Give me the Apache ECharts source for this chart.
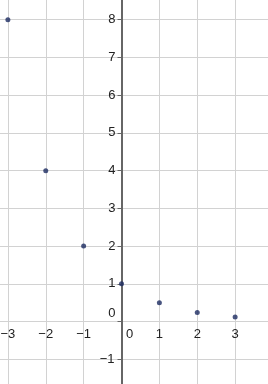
<!DOCTYPE html>
<html><head><meta charset="utf-8">
<script src="https://cdn.jsdelivr.net/npm/echarts@6/dist/echarts.min.js"></script>
<style>html,body{margin:0;padding:0;background:#fff}#c{width:268px;height:384px}</style>
</head><body><div id="c"></div>
<script>
const xValues = [-3, -2, -1, 0, 1, 2, 3];
const yValues = [8, 4, 2, 1, 0.5, 0.24, 0.12];
const xTicks = [-4, -3, -2, -1, 0, 1, 2, 3, 4];
const yTicks = [-2, -1, 0, 1, 2, 3, 4, 5, 6, 7, 8, 9];

const minus = v => (v < 0 ? '\u2212' + Math.abs(v) : String(v));
const fmt = v => (v === 0 ? '{z|0}' : minus(v));
const fmtY = v => (v === 0 ? '{z|0}' : v < 0 ? '' : minus(v));
const font = 'Liberation Sans, Arial, sans-serif';
const W = 268, H = 384;
const G = { left: -30, right: -5, top: -18, bottom: -13 };
const gw = W - G.left - G.right, gh = H - G.top - G.bottom;
const xMin = xTicks[0], xMax = xTicks[xTicks.length - 1];
const yMin = yTicks[0], yMax = yTicks[yTicks.length - 1];
// place the axes at the data origin
const yAxisOffset = -gw * (0 - xMin) / (xMax - xMin);
const xAxisOffset = -gh * (0 - yMin) / (yMax - yMin);
const chart = echarts.init(document.getElementById('c'));
chart.setOption({
  animation: false,
  backgroundColor: '#fff',
  grid: Object.assign({ containLabel: false, outerBoundsMode: 'none' }, G),
  xAxis: {
    type: 'value', position: 'bottom', offset: xAxisOffset,
    min: xMin, max: xMax, interval: 1,
    axisLine: { show: false, onZero: false },
    axisTick: { show: false },
    splitLine: { show: true, lineStyle: { color: '#d2d2d2', width: 1 } },
    axisLabel: {
      show: true, hideOverlap: false,
      margin: 6, fontSize: 13, fontFamily: font, color: '#222',
      formatter: fmt,
      rich: { z: { fontSize: 13, fontFamily: font, color: '#222', padding: [0, 0, 0, 16] } }
    }
  },
  yAxis: {
    type: 'value', position: 'left', offset: yAxisOffset,
    min: yMin, max: yMax, interval: 1,
    axisLine: { show: true, onZero: false, lineStyle: { color: '#666', width: 2 } },
    axisTick: { show: true, length: 4, lineStyle: { color: '#666' } },
    splitLine: { show: true, lineStyle: { color: '#d2d2d2', width: 1 } },
    axisLabel: {
      show: true, hideOverlap: false,
      margin: 6, fontSize: 13, fontFamily: font, color: '#222',
      formatter: fmtY,
      rich: { z: { fontSize: 13, fontFamily: font, color: '#222', padding: [0, 0, 16, 0] } }
    }
  },
  series: [{
    type: 'scatter',
    data: xValues.map((x, i) => [x, yValues[i]]),
    symbol: 'circle', symbolSize: 5,
    itemStyle: { color: '#1b2b60' }
  }]
});
// negative y tick labels (below the x axis), positioned through the chart's own scales
const negY = yTicks.filter(v => v < 0);
chart.setOption({
  graphic: negY.map(v => {
    const p = chart.convertToPixel({ gridIndex: 0 }, [0, v]);
    return {
      type: 'text', x: p[0] - 7, y: p[1], silent: true,
      style: { text: minus(v), fill: '#222', font: '13px ' + font, align: 'right', verticalAlign: 'middle' }
    };
  })
});
</script></body></html>
